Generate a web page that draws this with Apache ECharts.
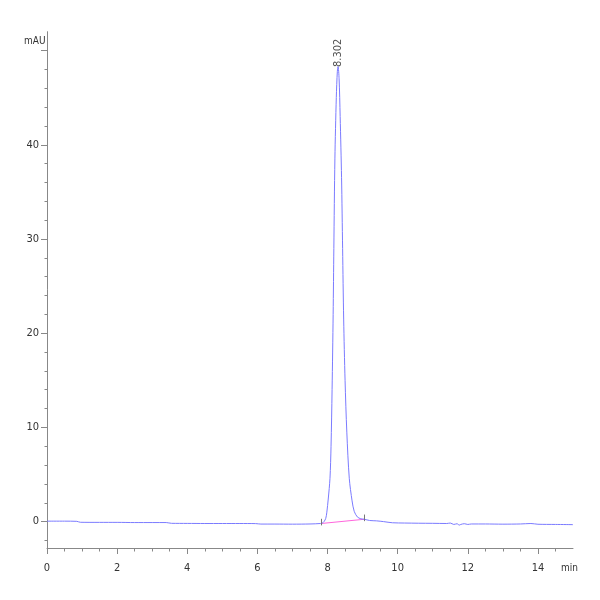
<!DOCTYPE html>
<html><head><meta charset="utf-8">
<script src="https://cdn.jsdelivr.net/npm/echarts@6/dist/echarts.min.js"></script>
<style>html,body{margin:0;padding:0;background:#fff}#c{width:600px;height:600px}</style>
</head><body><div id="c"></div>
<script>
const time = [0, 0.5, 0.85, 0.95, 1.5, 2.0, 2.5, 3.0, 3.4, 3.55, 4.0, 4.5, 5.0, 5.5, 5.95, 6.1, 6.5, 7.0, 7.5, 7.8, 7.85, 7.9, 7.95, 7.98, 8.02, 8.07, 8.10, 8.13, 8.16, 8.18, 8.21, 8.25, 8.28, 8.30, 8.33, 8.36, 8.40, 8.43, 8.46, 8.50, 8.55, 8.62, 8.70, 8.76, 8.85, 8.95, 9.05, 9.2, 9.4, 9.6, 9.85, 10.2, 10.6, 11.0, 11.4, 11.5, 11.6, 11.7, 11.75, 11.8, 11.9, 12.0, 12.1, 12.5, 13.0, 13.5, 13.8, 14.0, 14.5, 15.0];
const signal = [0.05, 0.05, 0.03, -0.07, -0.08, -0.08, -0.1, -0.1, -0.1, -0.18, -0.19, -0.2, -0.2, -0.2, -0.21, -0.26, -0.26, -0.27, -0.25, -0.2, -0.15, 0, 0.35, 1, 2.4, 4.6, 8, 14, 22, 29, 38.5, 45, 47.8, 48.3, 47, 43, 36.5, 29, 21.5, 15, 9.5, 4.6, 2.2, 1.1, 0.5, 0.3, 0.25, 0.12, 0.08, 0, -0.12, -0.15, -0.17, -0.18, -0.2, -0.15, -0.3, -0.22, -0.38, -0.3, -0.22, -0.3, -0.25, -0.25, -0.27, -0.25, -0.2, -0.28, -0.3, -0.32];
const peakLabel = "8.302";
const baselineTime = [7.82, 9.05];
const baselineValue = [-0.2, 0.25];
const xMajorTicks = [0, 2, 4, 6, 8, 10, 12, 14];
const xMinorTicks = [0,0.5,1,1.5,2,2.5,3,3.5,4,4.5,5,5.5,6,6.5,7,7.5,8,8.5,9,9.5,10,10.5,11,11.5,12,12.5,13,13.5,14,14.5];
const yMajorTicks = [0, 10, 20, 30, 40, 50];
const yLabelTicks = [0, 10, 20, 30, 40];
const yMinorTicks = [-2,0,2,4,6,8,10,12,14,16,18,20,22,24,26,28,30,32,34,36,38,40,42,44,46,48,50];
const yUnit = "mAU", xUnit = "min";

const font = "'Liberation Sans Narrow', 'DejaVu Sans Condensed', 'Liberation Sans', sans-serif";
const labelColor = '#333';
const axisColor = '#888';

let apex = 0;
signal.forEach((v, i) => { if (v > signal[apex]) apex = i; });

const xBase = { type: 'value', min: 0, max: 15, position: 'bottom', splitLine: { show: false } };
const yBase = { type: 'value', min: -2.8, max: 52, position: 'left', splitLine: { show: false } };

const chart = echarts.init(document.getElementById('c'), null, { renderer: 'canvas' });
chart.setOption({
  animation: false,
  backgroundColor: '#fff',
  grid: { left: 47, right: 27, top: 31.7, bottom: 52 },
  xAxis: [
    Object.assign({}, xBase, {
      axisLine: { show: true, onZero: false, lineStyle: { color: axisColor, width: 1 } },
      axisTick: { show: true, customValues: xMinorTicks, length: 3.5, lineStyle: { color: axisColor } },
      axisLabel: { show: false }
    }),
    Object.assign({}, xBase, {
      axisLine: { show: false, onZero: false },
      axisTick: { show: true, customValues: xMajorTicks, length: 6, lineStyle: { color: axisColor } },
      axisLabel: { show: true, customValues: xMajorTicks, margin: 15, fontFamily: font, fontSize: 11, color: labelColor }
    })
  ],
  yAxis: [
    Object.assign({}, yBase, {
      axisLine: { show: true, onZero: false, lineStyle: { color: axisColor, width: 1 } },
      axisTick: { show: true, customValues: yMinorTicks, length: 2.5, lineStyle: { color: axisColor } },
      axisLabel: { show: false }
    }),
    Object.assign({}, yBase, {
      axisLine: { show: false, onZero: false },
      axisTick: { show: true, customValues: yMajorTicks, length: 6, lineStyle: { color: axisColor } },
      axisLabel: { show: true, customValues: yLabelTicks, margin: 8, fontFamily: font, fontSize: 11, color: labelColor }
    })
  ],
  graphic: [
    { type: 'text', left: 24, top: 36, style: { text: yUnit, font: '10px ' + font, fill: labelColor } },
    { type: 'text', left: 561, top: 563, style: { text: xUnit, font: '10px ' + font, fill: labelColor } }
  ],
  series: [
    {
      type: 'line', xAxisIndex: 0, yAxisIndex: 0, data: baselineTime.map((t, i) => [t, baselineValue[i]]),
      showSymbol: false, symbol: 'none', lineStyle: { color: '#ff66dd', width: 1 }, z: 1, silent: true
    },
    {
      type: 'line', xAxisIndex: 0, yAxisIndex: 0, data: time.map((t, i) => [t, signal[i]]),
      showSymbol: false, symbol: 'none', smooth: 0.3, lineStyle: { color: '#7b7bff', width: 1 }, z: 2, silent: true,
      markLine: {
        symbol: 'none', silent: true, label: { show: false },
        lineStyle: { color: '#777', width: 1, type: 'solid' },
        data: baselineTime.map((t, i) => [{ coord: [t, baselineValue[i] - 0.2] }, { coord: [t, baselineValue[i] + 0.5] }])
      }
    },
    {
      type: 'scatter', xAxisIndex: 0, yAxisIndex: 0, data: [[time[apex], signal[apex]]],
      symbolSize: 1, itemStyle: { color: 'rgba(0,0,0,0)' }, silent: true, z: 3,
      label: { show: true, formatter: peakLabel, rotate: 90, position: 'top', align: 'left', verticalAlign: 'middle', distance: 0, offset: [-1, 0], fontFamily: font, fontSize: 11, color: '#222' }
    }
  ]
});
</script></body></html>
